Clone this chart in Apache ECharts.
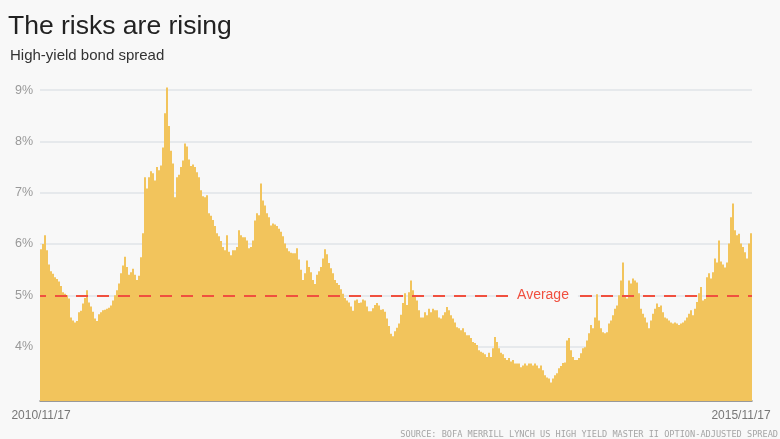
<!DOCTYPE html>
<html>
<head>
<meta charset="utf-8">
<script src="https://cdn.jsdelivr.net/npm/echarts@6/dist/echarts.min.js"></script>
<style>
html,body{margin:0;padding:0;background:#f8f8f8;}
#chart{width:780px;height:439px;}
</style>
</head>
<body>
<div id="chart"></div>
<script>
// ---- data ----
const titleText = 'The risks are rising';
const subtitleText = 'High-yield bond spread';
const sourceText = 'SOURCE: BOFA MERRILL LYNCH US HIGH YIELD MASTER II OPTION-ADJUSTED SPREAD';
const dateLabels = ['2010/11/17', '2015/11/17'];   // first and last date
const yTicks = [4, 5, 6, 7, 8, 9];                 // percent tick labels
const average = 5;                                  // average spread, %
const averageLabel = 'Average';
// high-yield spread (%), evenly spaced over 2010/11/17 - 2015/11/17
const spread = [
  5.9, 6.0, 6.17, 5.88, 5.6, 5.47, 5.42, 5.35, 5.32, 5.27, 5.18, 5.06, 5.03, 5.0, 4.94, 4.57, 4.51, 4.47, 4.5, 4.67,
  4.7, 4.84, 4.95, 5.1, 4.86, 4.78, 4.68, 4.55, 4.5, 4.63, 4.67, 4.71, 4.72, 4.74, 4.76, 4.8, 4.9, 5.0, 5.1, 5.23,
  5.43, 5.58, 5.75, 5.55, 5.4, 5.45, 5.52, 5.4, 5.3, 5.38, 5.74, 6.21, 7.3, 7.08, 7.3, 7.42, 7.38, 7.24, 7.5, 7.44,
  7.53, 7.88, 8.55, 9.05, 8.3, 7.82, 7.57, 6.91, 7.3, 7.35, 7.5, 7.63, 7.96, 7.9, 7.65, 7.52, 7.55, 7.5, 7.4, 7.3,
  7.05, 6.93, 6.91, 6.95, 6.6, 6.55, 6.47, 6.35, 6.21, 6.15, 6.06, 5.94, 5.88, 6.17, 5.85, 5.78, 5.88, 5.88, 5.94, 6.27,
  6.17, 6.13, 6.13, 6.07, 5.92, 5.94, 6.07, 6.46, 6.6, 6.56, 7.18, 6.85, 6.75, 6.6, 6.52, 6.36, 6.4, 6.38, 6.35, 6.3,
  6.24, 6.15, 6.01, 5.92, 5.86, 5.83, 5.82, 5.82, 5.92, 5.7, 5.5, 5.3, 5.43, 5.68, 5.55, 5.45, 5.3, 5.22, 5.4, 5.47,
  5.55, 5.72, 5.9, 5.8, 5.63, 5.53, 5.43, 5.3, 5.24, 5.2, 5.12, 5.03, 4.95, 4.9, 4.86, 4.78, 4.7, 4.9, 4.92, 4.85,
  4.86, 4.92, 4.9, 4.78, 4.69, 4.69, 4.75, 4.81, 4.85, 4.8, 4.72, 4.73, 4.68, 4.55, 4.4, 4.25, 4.2, 4.3, 4.37, 4.45,
  4.62, 4.85, 5.04, 4.81, 5.06, 5.29, 5.1, 5.0, 4.9, 4.71, 4.57, 4.57, 4.67, 4.61, 4.74, 4.67, 4.74, 4.71, 4.71, 4.57,
  4.55, 4.61, 4.67, 4.77, 4.71, 4.61, 4.55, 4.47, 4.38, 4.36, 4.32, 4.36, 4.28, 4.22, 4.22, 4.17, 4.09, 4.07, 4.03, 3.93,
  3.9, 3.88, 3.85, 3.8, 3.88, 3.8, 3.97, 4.19, 4.09, 3.97, 3.88, 3.85, 3.78, 3.74, 3.78, 3.71, 3.74, 3.67, 3.67, 3.67,
  3.6, 3.63, 3.67, 3.63, 3.67, 3.67, 3.63, 3.67, 3.63, 3.58, 3.63, 3.54, 3.44, 3.4, 3.38, 3.3, 3.38, 3.44, 3.48, 3.58,
  3.62, 3.68, 3.69, 4.12, 4.17, 3.93, 3.8, 3.74, 3.74, 3.78, 3.87, 3.97, 3.99, 4.12, 4.26, 4.42, 4.36, 4.57, 5.02, 4.51,
  4.36, 4.28, 4.26, 4.28, 4.45, 4.51, 4.61, 4.74, 4.8, 5.0, 5.29, 5.64, 5.0, 4.94, 5.29, 5.23, 5.33, 5.29, 5.25, 5.04,
  4.74, 4.64, 4.57, 4.47, 4.36, 4.51, 4.64, 4.74, 4.84, 4.77, 4.8, 4.67, 4.57, 4.55, 4.51, 4.47, 4.45, 4.47, 4.45, 4.42,
  4.45, 4.47, 4.51, 4.57, 4.64, 4.71, 4.61, 4.74, 4.87, 5.04, 5.16, 4.9, 4.93, 5.35, 5.43, 5.33, 5.45, 5.72, 5.64, 6.07,
  5.66, 5.6, 5.54, 5.64, 6.01, 6.52, 6.79, 6.27, 6.17, 6.2, 6.01, 5.94, 5.84, 5.72, 6.01, 6.21
];

// ---- chart ----
const N = spread.length;
const categories = spread.map((_, i) => i);
const BG = '#f8f8f8';
const FONT = '"Liberation Sans", Arial, Helvetica, sans-serif';

const chart = echarts.init(document.getElementById('chart'), null, { renderer: 'canvas' });
chart.setOption({
  backgroundColor: BG,
  animation: false,
  title: [
    { text: titleText, left: 8, top: 13, padding: 0,
      textStyle: { fontFamily: FONT, fontSize: 26.5, fontWeight: 'normal', color: '#222' } },
    { text: subtitleText, left: 10, top: 48, padding: 0,
      textStyle: { fontFamily: FONT, fontSize: 15, fontWeight: 'normal', color: '#333' } },
    { text: sourceText, right: 2, top: 430, padding: 0,
      textStyle: { fontFamily: '"DejaVu Sans Mono", monospace', fontSize: 8.6, fontWeight: 'normal', color: '#a5a5a5' } }
  ],
  grid: { left: 40, right: 28, top: 85, bottom: 38, containLabel: false },
  xAxis: {
    type: 'category',
    data: categories,
    boundaryGap: true,
    axisLine: { show: true, onZero: false, lineStyle: { color: '#7a7a7a', width: 1.5 } },
    axisTick: { show: false },
    splitLine: { show: false },
    axisLabel: {
      show: true,
      interval: (i) => i === 0 || i === N - 1,
      margin: 9,
      fontFamily: FONT, fontSize: 12, color: '#777',
      formatter: (v, i) => i === 0 ? dateLabels[0] : (i === N - 1 ? '{r|' + dateLabels[1] + '}' : ''),
      rich: { r: { fontFamily: FONT, fontSize: 12, color: '#777', padding: [0, 20, 0, 0] } }
    }
  },
  yAxis: {
    type: 'value',
    min: 2.94,
    max: 9.1,
    axisLine: { show: false },
    axisTick: { show: false, customValues: yTicks },
    axisLabel: {
      customValues: yTicks,
      formatter: (v) => v + '%',
      margin: 7,
      fontFamily: FONT, fontSize: 12.5, color: '#999'
    },
    splitLine: { show: true, lineStyle: { color: '#e1e4e8', width: 1.5 } }
  },
  series: [{
    type: 'bar',
    data: spread,
    barCategoryGap: '0%',
    itemStyle: { color: '#f2c45c' },
    silent: true,
    markLine: {
      silent: true,
      symbol: 'none',
      lineStyle: { color: '#f0503f', width: 2, type: [12, 9], dashOffset: 6 },
      label: {
        show: true,
        position: 'middle',
        distance: 0,
        verticalAlign: 'middle',
        formatter: '{pad| }{t|' + averageLabel + '}',
        rich: {
          pad: { width: 294 },
          t: { fontFamily: FONT, fontSize: 14, color: '#f0503f', backgroundColor: BG, padding: [2, 9, 2, 9] }
        }
      },
      data: [{ yAxis: average }]
    }
  }]
});
</script>
</body>
</html>
